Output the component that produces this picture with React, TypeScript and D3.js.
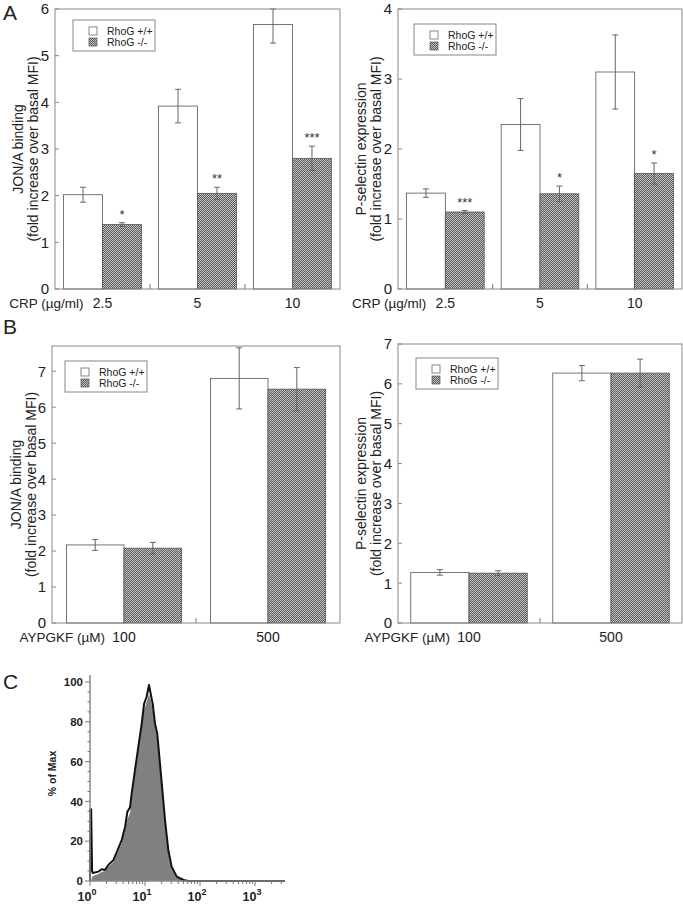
import React, { useRef, useEffect } from "react";
import * as d3 from "d3";

// panel A: CRP stimulation
const crpDoses = ["2.5", "5", "10"];
const jonaWT = [2.02, 3.92, 5.67];
const jonaWTErr = [0.16, 0.36, 0.4];
const jonaKO = [1.38, 2.05, 2.8];
const jonaKOErr = [0.04, 0.13, 0.26];
const jonaStars = ["*", "**", "***"];
const pselWT = [1.37, 2.35, 3.1];
const pselWTErr = [0.06, 0.37, 0.53];
const pselKO = [1.1, 1.36, 1.65];
const pselKOErr = [0.02, 0.11, 0.15];
const pselStars = ["***", "*", "*"];

// panel B: AYPGKF stimulation
const aypDoses = ["100", "500"];
const bJonaWT = [2.17, 6.8];
const bJonaWTErr = [0.15, 0.85];
const bJonaKO = [2.08, 6.5];
const bJonaKOErr = [0.16, 0.6];
const bPselWT = [1.27, 6.27];
const bPselWTErr = [0.07, 0.19];
const bPselKO = [1.25, 6.27];
const bPselKOErr = [0.06, 0.35];

// panel C: flow histogram (fluorescence, % of max)
const histX = [1, 1.02, 1.05, 1.09, 1.13, 1.42, 1.63, 1.87, 2.15, 2.66, 3.27, 3.77, 4.33, 4.78, 5.34, 5.73, 6.58, 7.56, 8.7, 9.6, 10.7, 11.8, 12.7, 13.8, 15.2, 16.7, 18.7, 20.9, 23.4, 26.5, 30.5, 37.7, 50, 61.5, 3500];
const histKO = [0, 36, 36, 5, 4, 4.7, 5.9, 5.5, 8, 10.5, 16.4, 20.6, 27, 34.8, 37, 44, 55.8, 67.5, 79, 89, 92.6, 98.5, 94, 89, 79, 74, 59, 44, 29, 15.6, 7.2, 2.2, 0.5, 0, 0];
const histWT = [0, 0, 0, 2, 2.5, 3.5, 4.5, 5, 7, 9.5, 15, 19, 25.5, 31, 34, 42, 54, 66, 77, 86, 90, 94, 91, 86, 77, 72, 57, 42, 27, 14, 6, 1.8, 0.3, 0, 0];

const seriesNames = ["RhoG +/+", "RhoG -/-"];

const FONT = "'Liberation Sans', Arial, Helvetica, sans-serif";

interface BarPanel {
  left: number; right: number; top: number; bottom: number;
  yMax: number; ticks: number[];
  cats: string[];
  wt: number[]; wtErr: number[]; ko: number[]; koErr: number[];
  stars?: string[];
  yLabel: string; yLabelX: number;
  xTitle: string;
  legend: [number, number];
  inset: number;
}

const panels: BarPanel[] = [
  { left: 55, right: 340, top: 9, bottom: 289, yMax: 6, ticks: d3.range(0, 7),
    cats: crpDoses, wt: jonaWT, wtErr: jonaWTErr, ko: jonaKO, koErr: jonaKOErr, stars: jonaStars,
    yLabel: "JON/A binding", yLabelX: 18, xTitle: "CRP (µg/ml)", legend: [73, 20], inset: 0.09 },
  { left: 398, right: 682, top: 9, bottom: 289, yMax: 4, ticks: d3.range(0, 5),
    cats: crpDoses, wt: pselWT, wtErr: pselWTErr, ko: pselKO, koErr: pselKOErr, stars: pselStars,
    yLabel: "P-selectin expression", yLabelX: 361, xTitle: "CRP (µg/ml)", legend: [414, 24], inset: 0.09 },
  { left: 52, right: 340, top: 346, bottom: 623, yMax: 7.7, ticks: d3.range(0, 8),
    cats: aypDoses, wt: bJonaWT, wtErr: bJonaWTErr, ko: bJonaKO, koErr: bJonaKOErr,
    yLabel: "JON/A binding", yLabelX: 16, xTitle: "AYPGKF (µM)", legend: [65, 361], inset: 0.1 },
  { left: 398, right: 682, top: 344, bottom: 623, yMax: 7, ticks: d3.range(0, 8),
    cats: aypDoses, wt: bPselWT, wtErr: bPselWTErr, ko: bPselKO, koErr: bPselKOErr,
    yLabel: "P-selectin expression", yLabelX: 361, xTitle: "AYPGKF (µM)", legend: [416, 358], inset: 0.09 },
];

function drawBarPanel(svg: d3.Selection<SVGSVGElement, unknown, null, undefined>, p: BarPanel) {
  const g = svg.append("g");
  const x = d3.scaleBand<string>().domain(p.cats).range([p.left, p.right]).padding(0);
  const bw = x.bandwidth();
  const inner = d3.scaleBand<string>().domain(["wt", "ko"]).range([bw * p.inset, bw * (1 - p.inset)]).padding(0);
  const y = d3.scaleLinear().domain([0, p.yMax]).range([p.bottom, p.top]);

  p.cats.forEach((c, i) => {
    const x0 = x(c)!;
    const bars = [
      { k: "wt", v: p.wt[i], e: p.wtErr[i], fill: "#fff" },
      { k: "ko", v: p.ko[i], e: p.koErr[i], fill: "url(#hatch)" },
    ];
    bars.forEach((b) => {
      const bx = x0 + inner(b.k)!;
      g.append("rect")
        .attr("x", bx).attr("y", y(b.v))
        .attr("width", inner.bandwidth()).attr("height", y(0) - y(b.v))
        .attr("fill", b.fill).attr("stroke", "#555").attr("stroke-width", 0.8);
      const cx = bx + inner.bandwidth() / 2;
      const hi = Math.min(b.v + b.e, p.yMax);
      g.append("line").attr("x1", cx).attr("x2", cx).attr("y1", y(b.v - b.e)).attr("y2", y(hi))
        .attr("stroke", "#666").attr("stroke-width", 1);
      [b.v - b.e, hi].forEach((v) => {
        g.append("line").attr("x1", cx - 3).attr("x2", cx + 3).attr("y1", y(v)).attr("y2", y(v))
          .attr("stroke", "#666").attr("stroke-width", 1);
      });
      if (b.k === "ko" && p.stars) {
        g.append("text").attr("x", cx).attr("y", y(b.v + b.e) - 4)
          .attr("text-anchor", "middle").attr("font-size", 13).attr("fill", "#333")
          .attr("font-family", FONT).text(p.stars[i]);
      }
    });
    g.append("text").attr("x", x0 + bw / 2).attr("y", p.bottom + 19)
      .attr("text-anchor", "middle").attr("font-size", 14).attr("fill", "#222")
      .attr("font-family", FONT).text(c);
    if (i > 0) {
      g.append("line").attr("x1", x0).attr("x2", x0).attr("y1", p.bottom).attr("y2", p.bottom - 5)
        .attr("stroke", "#777").attr("stroke-width", 1);
    }
  });

  const firstLabelW = p.cats[0].length * 4;
  g.append("text").attr("x", x(p.cats[0])! + bw / 2 - firstLabelW - 7).attr("y", p.bottom + 19)
    .attr("text-anchor", "end").attr("font-size", 13.5).attr("fill", "#222")
    .attr("font-family", FONT).text(p.xTitle);

  g.append("rect").attr("x", p.left).attr("y", p.top)
    .attr("width", p.right - p.left).attr("height", p.bottom - p.top)
    .attr("fill", "none").attr("stroke", "#888").attr("stroke-width", 1);

  p.ticks.forEach((t) => {
    g.append("line").attr("x1", p.left).attr("x2", p.left + 4).attr("y1", y(t)).attr("y2", y(t))
      .attr("stroke", "#888");
    g.append("text").attr("x", p.left - 6).attr("y", y(t)).attr("dy", "0.36em")
      .attr("text-anchor", "end").attr("font-size", 15).attr("fill", "#222")
      .attr("font-family", FONT).text(t);
  });

  const midY = (p.top + p.bottom) / 2;
  [p.yLabel, "(fold increase over basal MFI)"].forEach((s, k) => {
    g.append("text")
      .attr("transform", `translate(${p.yLabelX + k * 15},${midY}) rotate(-90)`)
      .attr("text-anchor", "middle").attr("dy", "0.36em")
      .attr("font-size", 14).attr("fill", "#222").attr("font-family", FONT).text(s);
  });

  const [lx, ly] = p.legend;
  const lg = g.append("g").attr("transform", `translate(${lx},${ly})`);
  lg.append("rect").attr("width", 82).attr("height", 31).attr("fill", "#fff")
    .attr("stroke", "#888").attr("stroke-width", 1);
  seriesNames.forEach((n, k) => {
    lg.append("rect").attr("x", 16).attr("y", 7 + k * 11).attr("width", 8).attr("height", 8)
      .attr("fill", k === 0 ? "#fff" : "url(#hatch)").attr("stroke", "#555").attr("stroke-width", 0.7);
    lg.append("text").attr("x", 34).attr("y", 11 + k * 11).attr("dy", "0.36em")
      .attr("font-size", 10.5).attr("fill", "#222").attr("font-family", FONT).text(n);
  });
}

function drawHistogram(svg: d3.Selection<SVGSVGElement, unknown, null, undefined>) {
  const left = 90, right = 285, top = 682, bottom = 881;
  const x = d3.scaleLog().domain([1, 3500]).range([left, right]);
  const y = d3.scaleLinear().domain([0, 100]).range([bottom, top]);
  const g = svg.append("g");

  const wtData = histX.map((v, i) => [v, histWT[i]] as [number, number]);
  const koData = histX.map((v, i) => [v, histKO[i]] as [number, number]);

  const area = d3.area<[number, number]>().x((d) => x(d[0])).y0(y(0)).y1((d) => y(d[1]));
  const line = d3.line<[number, number]>().x((d) => x(d[0])).y((d) => y(d[1]));

  g.append("path").attr("d", area(wtData)!).attr("fill", "#808080");
  g.append("path").attr("d", line(koData)!).attr("fill", "none")
    .attr("stroke", "#111").attr("stroke-width", 2).attr("stroke-linejoin", "round");

  g.append("line").attr("x1", left).attr("x2", left).attr("y1", top - 7).attr("y2", bottom)
    .attr("stroke", "#888").attr("stroke-width", 1.5);
  g.append("line").attr("x1", left).attr("x2", right).attr("y1", bottom).attr("y2", bottom)
    .attr("stroke", "#888").attr("stroke-width", 1.5);

  d3.range(0, 101, 5).forEach((t) => {
    const major = t % 20 === 0;
    g.append("line").attr("x1", left - (major ? 5 : 2.5)).attr("x2", left)
      .attr("y1", y(t)).attr("y2", y(t)).attr("stroke", "#777").attr("stroke-width", 1);
    if (major) {
      g.append("text").attr("x", left - 7).attr("y", y(t)).attr("dy", "0.36em")
        .attr("text-anchor", "end").attr("font-size", 11.5).attr("font-weight", "bold")
        .attr("fill", "#222").attr("font-family", FONT).text(t);
    }
  });

  const decades = [1, 10, 100, 1000];
  const minor: number[] = [];
  decades.forEach((d) => d3.range(1, 10).forEach((m) => { if (d * m <= 3500) minor.push(d * m); }));
  minor.forEach((v) => {
    const major = decades.includes(v);
    g.append("line").attr("x1", x(v)).attr("x2", x(v)).attr("y1", bottom)
      .attr("y2", bottom + (major ? 5 : 3)).attr("stroke", "#777").attr("stroke-width", 1);
  });
  decades.forEach((v, e) => {
    const t = g.append("text").attr("x", x(v) - 3).attr("y", bottom + 20)
      .attr("text-anchor", "middle").attr("font-size", 12.5).attr("font-weight", "bold")
      .attr("fill", "#222").attr("font-family", FONT);
    t.append("tspan").text("10");
    t.append("tspan").attr("dy", -6).attr("font-size", 9).text(e);
  });

  g.append("text").attr("transform", `translate(52,${(top + bottom) / 2 - 8}) rotate(-90)`)
    .attr("text-anchor", "middle").attr("dy", "0.36em").attr("font-size", 10.5)
    .attr("font-weight", "bold").attr("fill", "#222").attr("font-family", FONT).text("% of Max");
}

const App: React.FC = () => {
  const svgRef = useRef<SVGSVGElement | null>(null);

  useEffect(() => {
    if (!svgRef.current) return;
    const svg = d3.select(svgRef.current);
    svg.selectAll("*").remove();

    const defs = svg.append("defs");
    const pat = defs.append("pattern").attr("id", "hatch").attr("patternUnits", "userSpaceOnUse")
      .attr("width", 2).attr("height", 2);
    pat.append("rect").attr("width", 2).attr("height", 2).attr("fill", "#5a5a5a");
    pat.append("rect").attr("width", 1).attr("height", 1).attr("fill", "#c4c4c4");
    pat.append("rect").attr("x", 1).attr("y", 1).attr("width", 1).attr("height", 1).attr("fill", "#c4c4c4");

    svg.append("rect").attr("width", 683).attr("height", 905).attr("fill", "#fff");

    panels.forEach((p) => drawBarPanel(svg, p));
    drawHistogram(svg);

    [["A", 20], ["B", 334], ["C", 689]].forEach(([s, yy]) => {
      svg.append("text").attr("x", 3).attr("y", yy as number).attr("font-size", 21)
        .attr("fill", "#222").attr("font-family", FONT).text(s as string);
    });
  }, []);

  return (
    <div style={{ position: "absolute", left: 0, top: 0 }}>
      <svg ref={svgRef} width={683} height={905} style={{ display: "block" }}></svg>
    </div>
  );
};

export default App;
